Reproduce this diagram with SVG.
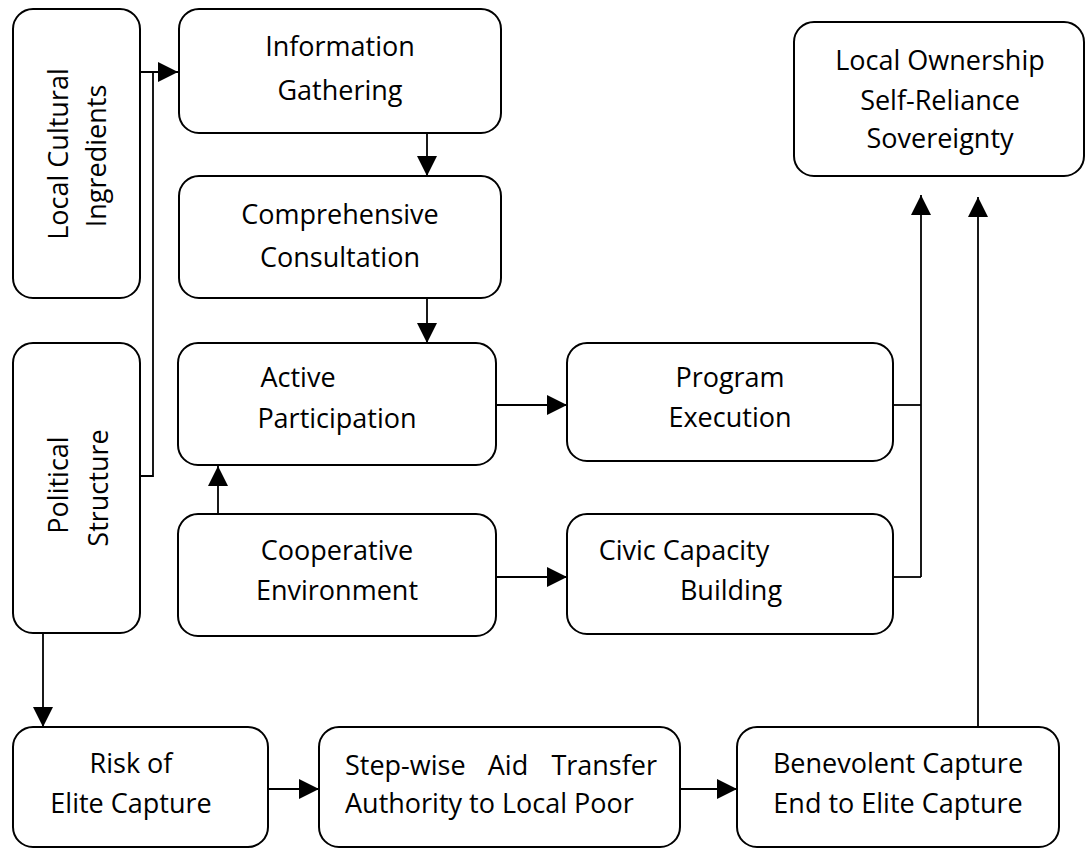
<svg xmlns="http://www.w3.org/2000/svg" width="1087" height="848" viewBox="0 0 1087 848">
  <defs>
    <marker id="arrow" markerUnits="userSpaceOnUse" markerWidth="20" markerHeight="20" refX="20" refY="10" orient="auto">
      <path d="M0,0 L20,10 L0,20 Z" fill="#000"/>
    </marker>
    <style>
      .box { fill: #fff; stroke: #000; stroke-width: 2; }
      .lbl { font-family: "Open Sans", "Liberation Sans", sans-serif; font-size: 27px; fill: #000; text-anchor: middle; }
      .lbl.start { text-anchor: start; }
      .lbl.end { text-anchor: end; }
      .link { fill: none; stroke: #000; stroke-width: 1.8; }
    </style>
  </defs>
  <rect width="1087" height="848" fill="#fff"/>

  <!-- connectors -->
  <g id="connectors">
    <line class="link" x1="140" y1="72" x2="178" y2="72" marker-end="url(#arrow)"/>
    <polyline class="link" points="140,476 153,476 153,72"/>
    <line class="link" x1="427" y1="133" x2="427" y2="176" marker-end="url(#arrow)"/>
    <line class="link" x1="427" y1="298" x2="427" y2="343" marker-end="url(#arrow)"/>
    <line class="link" x1="496" y1="405" x2="567" y2="405" marker-end="url(#arrow)"/>
    <line class="link" x1="218" y1="514" x2="218" y2="466" marker-end="url(#arrow)"/>
    <line class="link" x1="496" y1="577" x2="567" y2="577" marker-end="url(#arrow)"/>
    <line class="link" x1="893" y1="405" x2="921" y2="405"/>
    <line class="link" x1="893" y1="577" x2="921" y2="577"/>
    <line class="link" x1="921" y1="577" x2="921" y2="195" marker-end="url(#arrow)"/>
    <line class="link" x1="978" y1="727" x2="978" y2="197" marker-end="url(#arrow)"/>
    <line class="link" x1="43" y1="633" x2="43" y2="727" marker-end="url(#arrow)"/>
    <line class="link" x1="268" y1="789" x2="319" y2="789" marker-end="url(#arrow)"/>
    <line class="link" x1="680" y1="789" x2="737" y2="789" marker-end="url(#arrow)"/>
  </g>

  <g id="local-cultural-ingredients">
    <rect class="box" x="13" y="9" width="127" height="289" rx="20"/>
    <text class="lbl" transform="translate(68,154) rotate(-90)">Local Cultural</text>
    <text class="lbl" transform="translate(106,156) rotate(-90)">Ingredients</text>
  </g>

  <g id="political-structure">
    <rect class="box" x="13" y="343" width="127" height="290" rx="20"/>
    <text class="lbl" transform="translate(68,485) rotate(-90)">Political</text>
    <text class="lbl" transform="translate(108,488) rotate(-90)">Structure</text>
  </g>

  <g id="information-gathering">
    <rect class="box" x="179" y="9" width="322" height="124" rx="20"/>
    <text class="lbl" x="340" y="56">Information</text>
    <text class="lbl" x="340" y="100">Gathering</text>
  </g>

  <g id="comprehensive-consultation">
    <rect class="box" x="179" y="176" width="322" height="122" rx="20"/>
    <text class="lbl" x="340" y="224">Comprehensive</text>
    <text class="lbl" x="340" y="267">Consultation</text>
  </g>

  <g id="active-participation">
    <rect class="box" x="178" y="343" width="318" height="122" rx="20"/>
    <text class="lbl" x="298" y="387">Active</text>
    <text class="lbl" x="337" y="428">Participation</text>
  </g>

  <g id="cooperative-environment">
    <rect class="box" x="178" y="514" width="318" height="122" rx="20"/>
    <text class="lbl" x="337" y="560">Cooperative</text>
    <text class="lbl" x="337" y="600">Environment</text>
  </g>

  <g id="program-execution">
    <rect class="box" x="567" y="343" width="326" height="118" rx="20"/>
    <text class="lbl" x="730" y="387">Program</text>
    <text class="lbl" x="730" y="427">Execution</text>
  </g>

  <g id="civic-capacity-building">
    <rect class="box" x="567" y="514" width="326" height="120" rx="20"/>
    <text class="lbl" x="684" y="560">Civic Capacity</text>
    <text class="lbl" x="731" y="600">Building</text>
  </g>

  <g id="local-ownership">
    <rect class="box" x="794" y="22" width="290" height="154" rx="20"/>
    <text class="lbl" x="940" y="70">Local Ownership</text>
    <text class="lbl" x="940" y="110">Self-Reliance</text>
    <text class="lbl" x="940" y="148">Sovereignty</text>
  </g>

  <g id="risk-of-elite-capture">
    <rect class="box" x="13" y="727" width="255" height="120" rx="20"/>
    <text class="lbl" x="131" y="773">Risk of</text>
    <text class="lbl" x="131" y="813">Elite Capture</text>
  </g>

  <g id="step-wise-aid-transfer">
    <rect class="box" x="319" y="727" width="361" height="120" rx="20"/>
    <text class="lbl start" x="345" y="775">Step-wise</text>
    <text class="lbl" x="508" y="775">Aid</text>
    <text class="lbl end" x="657" y="775">Transfer</text>
    <text class="lbl start" x="345" y="813">Authority to Local Poor</text>
  </g>

  <g id="benevolent-capture">
    <rect class="box" x="737" y="727" width="322" height="120" rx="20"/>
    <text class="lbl" x="898" y="773">Benevolent Capture</text>
    <text class="lbl" x="898" y="813">End to Elite Capture</text>
  </g>
</svg>
